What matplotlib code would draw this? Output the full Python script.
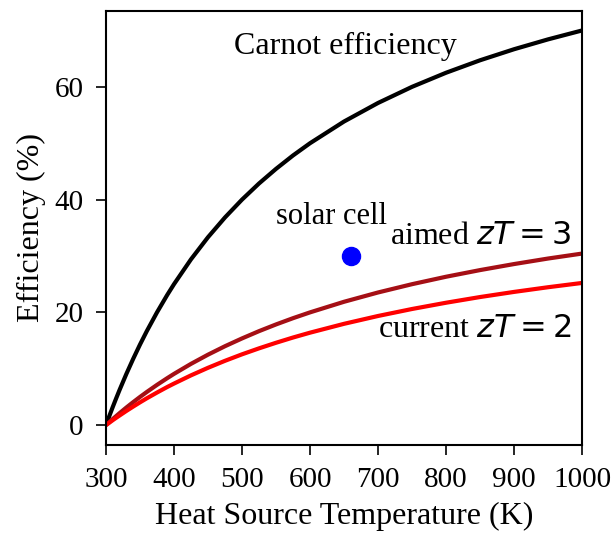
import matplotlib
matplotlib.use('Agg')
import matplotlib.pyplot as plt

# heat source temperature (K) and efficiencies (%)
temps = [300, 305, 310, 315, 320, 330, 340, 350, 360, 375, 390, 400, 425, 450, 475,
         500, 525, 550, 575, 600, 650, 700, 750, 800, 850, 900, 950, 1000]
carnot = [0.0, 1.64, 3.23, 4.76, 6.25, 9.09, 11.76, 14.29, 16.67, 20.0, 23.08, 25.0, 29.41, 33.33, 36.84,
          40.0, 42.86, 45.45, 47.83, 50.0, 53.85, 57.14, 60.0, 62.5, 64.71, 66.67, 68.42, 70.0]
zt3 = [0.0, 0.55, 1.09, 1.61, 2.13, 3.13, 4.08, 5.0, 5.88, 7.14, 8.33, 9.09, 10.87, 12.5, 14.0,
       15.38, 16.67, 17.86, 18.97, 20.0, 21.88, 23.53, 25.0, 26.32, 27.5, 28.57, 29.55, 30.43]
zt2 = [0.0, 0.44, 0.88, 1.3, 1.71, 2.52, 3.29, 4.04, 4.76, 5.78, 6.76, 7.37, 8.83, 10.17, 11.41,
       12.56, 13.62, 14.61, 15.54, 16.4, 17.97, 19.36, 20.6, 21.71, 22.72, 23.63, 24.46, 25.22]
solar_T = [660]
solar_eff = [30]

plt.rcParams['font.family'] = ['Liberation Serif', 'DejaVu Serif']
plt.rcParams['mathtext.fontset'] = 'dejavusans'
plt.rcParams['font.size'] = 21

fig = plt.figure(figsize=(6.14, 5.36), dpi=100)
ax = fig.add_axes([0.1726, 0.170, 0.7754, 0.810])

for y, c in [(carnot, 'black'), (zt3, '#a50f15'), (zt2, 'red')]:
    ax.plot(temps, y, color=c, lw=3, solid_joinstyle='round', solid_capstyle='butt')
ax.plot(solar_T, solar_eff, 'o', color='blue', markersize=13)

ax.text(652, 67.2, 'Carnot efficiency', ha='center', va='center', fontsize=23)
ax.text(632, 37, 'solar cell', ha='center', va='center', fontsize=22)
ax.text(984, 33.5, 'aimed $zT = 3$', ha='right', va='center', fontsize=23)
ax.text(984, 17, 'current $zT = 2$', ha='right', va='center', fontsize=23)

ax.set_xlim(300, 1000)
ax.set_ylim(-3.5, 73.5)
ax.set_xticks(range(300, 1001, 100))
ax.set_yticks([0, 20, 40, 60])
ax.tick_params(direction='out', length=7, width=1.2, pad=9)
for s in ax.spines.values():
    s.set_linewidth(1.5)
ax.set_xlabel('Heat Source Temperature (K)', fontsize=23, labelpad=6)
ax.set_ylabel('Efficiency (%)', fontsize=23, labelpad=6)

fig.savefig('out.png', dpi=100)
